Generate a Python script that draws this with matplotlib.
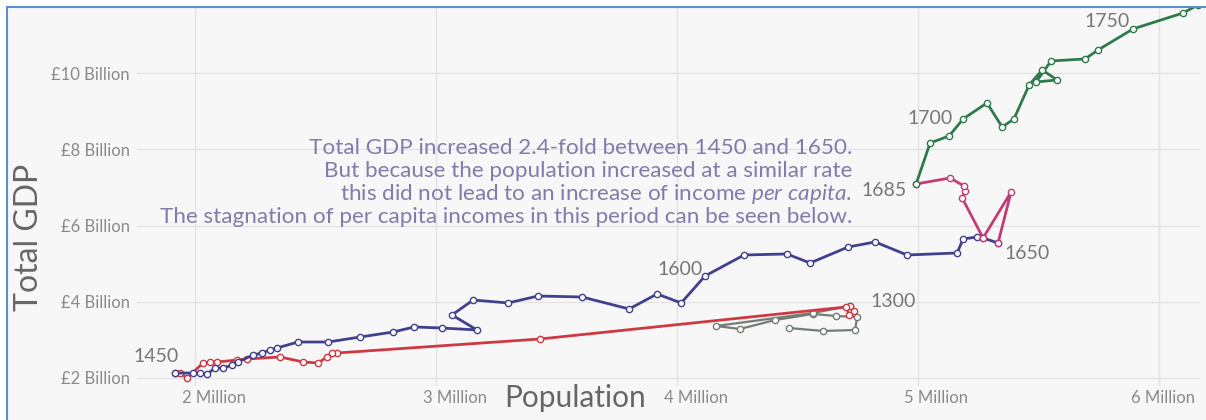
import matplotlib
matplotlib.use('Agg')
import matplotlib.pyplot as plt
import matplotlib.transforms as mtransforms
from matplotlib.patches import Rectangle

plt.rcParams['font.family'] = ['Lato', 'DejaVu Sans']
plt.rcParams['mathtext.fontset'] = 'custom'
plt.rcParams['mathtext.rm'] = 'Lato'
plt.rcParams['mathtext.it'] = 'Lato:italic'

# population (millions) and total GDP (billion £)
grey_pop = [4.465, 4.606, 4.739, 4.747, 4.660, 4.564, 4.407, 4.261, 4.162, 4.564, 4.718]
grey_gdp = [3.312, 3.234, 3.260, 3.601, 3.627, 3.680, 3.522, 3.286, 3.365, 3.706, 3.890]

red_pop = [4.718, 4.734, 4.714, 4.701, 3.432, 2.589, 2.568, 2.548, 2.510, 2.448, 2.353,
           2.216, 2.174, 2.091, 2.062, 2.033, 1.967, 1.938, 1.917]
red_gdp = [3.890, 3.759, 3.654, 3.864, 3.024, 2.656, 2.656, 2.551, 2.394, 2.420, 2.551,
           2.499, 2.472, 2.420, 2.420, 2.394, 2.000, 2.131, 2.131]

blue_pop = [1.917, 1.992, 2.021, 2.050, 2.083, 2.116, 2.154, 2.178, 2.241, 2.278, 2.311,
            2.340, 2.427, 2.552, 2.685, 2.822, 2.909, 3.025, 3.170, 3.066, 3.154, 3.299,
            3.423, 3.606, 3.801, 3.917, 4.017, 4.116, 4.278, 4.456, 4.552, 4.710, 4.822,
            4.954, 5.162, 5.187, 5.245, 5.270, 5.332]
blue_gdp = [2.131, 2.131, 2.131, 2.105, 2.262, 2.262, 2.341, 2.420, 2.604, 2.656, 2.735,
            2.787, 2.945, 2.945, 3.076, 3.207, 3.339, 3.312, 3.260, 3.654, 4.047, 3.969,
            4.152, 4.126, 3.811, 4.205, 3.969, 4.677, 5.228, 5.255, 5.018, 5.438, 5.570,
            5.228, 5.281, 5.648, 5.701, 5.675, 5.543]

pink_pop = [5.332, 5.386, 5.270, 5.183, 5.195, 5.191, 5.133, 4.992]
pink_gdp = [5.543, 6.882, 5.675, 6.724, 6.908, 7.039, 7.249, 7.092]

green_pop = [4.992, 5.050, 5.129, 5.187, 5.286, 5.349, 5.398, 5.461, 5.515, 5.577, 5.490,
             5.552, 5.693, 5.747, 5.892, 6.100, 6.162]
green_gdp = [7.092, 8.168, 8.352, 8.798, 9.218, 8.588, 8.798, 9.690, 10.084, 9.822, 9.769,
             10.320, 10.373, 10.609, 11.160, 11.580, 11.790]

year_labels = ['1300', '1450', '1600', '1650', '1685', '1700', '1750']
year_pts = [(4.718, 3.890), (1.917, 2.131), (4.116, 4.677), (5.332, 5.543),
            (4.992, 7.092), (5.187, 8.798), (5.892, 11.160)]
year_offsets = [((20, 4), 'left', 'center'), ((4, 8), 'right', 'bottom'),
                ((-2, 6), 'right', 'center'), ((6, -2), 'left', 'top'),
                ((-9, -7), 'right', 'center'), ((-10, 0), 'right', 'center'),
                ((-3, 7), 'right', 'center')]

x_ticks = [2, 3, 4, 5, 6]
x_ticklabels = ['2 Million', '3 Million', '4 Million', '5 Million', '6 Million']
y_ticks = [2, 4, 6, 8, 10]
y_ticklabels = ['£2 Billion', '£4 Billion', '£6 Billion', '£8 Billion', '£10 Billion']

note_lines = ['Total GDP increased 2.4-fold between 1450 and 1650.',
              'But because the population increased at a similar rate',
              'this did not lead to an increase of income $\\mathit{per\\ capita}$.',
              'The stagnation of per capita incomes in this period can be seen below.']

W, H = 1206, 420
fig = plt.figure(figsize=(W / 100, H / 100), dpi=100, facecolor='white')

# screenshot frame
fig.patches.append(Rectangle((7 / W, -0.05), 1, 1.05 - 7 / H, transform=fig.transFigure,
                             facecolor='#f7f7f7', edgecolor='#5b8fd0', linewidth=1.5, zorder=-5))

ax = fig.add_axes([137 / W, 1 - 386 / H, (1200 - 137) / W, (386 - 8) / H])
ax.patch.set_alpha(0)

series = [
    (grey_pop, grey_gdp, '#737d76', 1.6),
    (red_pop, red_gdp, '#cf3a42', 2.0),
    (blue_pop, blue_gdp, '#423f8e', 2.0),
    (pink_pop, pink_gdp, '#c43c74', 2.0),
    (green_pop, green_gdp, '#2f7a4c', 2.0),
]
for xs, ys, col, lw in series:
    ax.plot(xs, ys, color=col, lw=lw, marker='o', ms=4.5, mfc='white',
            mec=col, mew=1.0, zorder=3, clip_on=True)

for lab, (px, py), (off, ha, va) in zip(year_labels, year_pts, year_offsets):
    ax.annotate(lab, (px, py), xytext=off, textcoords='offset pixels',
                ha=ha, va=va, fontsize=14, color='#777777', zorder=4)

ax.set_xlim(1.759, 6.170)
ax.set_ylim(1.79, 11.71)
ax.set_xticks(x_ticks)
ax.set_xticklabels(x_ticklabels)
ax.set_yticks(y_ticks)
ax.set_yticklabels(y_ticklabels)
ax.tick_params(axis='both', length=0, labelsize=12, labelcolor='#8a8a8a')
ax.tick_params(axis='x', pad=3)
ax.tick_params(axis='y', pad=5)
ax.grid(True, color='#e3e3e3', lw=1)
ax.set_axisbelow(True)
for s in ax.spines.values():
    s.set_visible(False)

# x tick labels sit a little right of their gridlines; last one kept inside the frame
shifts = [19, 19, 19, 18, 4]
for lbl, dx in zip(ax.get_xticklabels(), shifts):
    lbl.set_transform(lbl.get_transform() + mtransforms.ScaledTranslation(dx / 100, 0, fig.dpi_scale_trans))

fig.text(575 / W, 1 - 398 / H, 'Population', ha='center', va='center',
         fontsize=21.5, color='#666666')
fig.text(29 / W, 1 - 237 / H, 'Total GDP', ha='center', va='center',
         rotation=90, fontsize=23, color='#666666')

for i, line in enumerate(note_lines):
    fig.text(852 / W, 1 - (148 + i * 23) / H, line, ha='right', va='center',
             fontsize=16.2, color='#807cab')

fig.savefig('out.png', dpi=100, facecolor=fig.get_facecolor())
